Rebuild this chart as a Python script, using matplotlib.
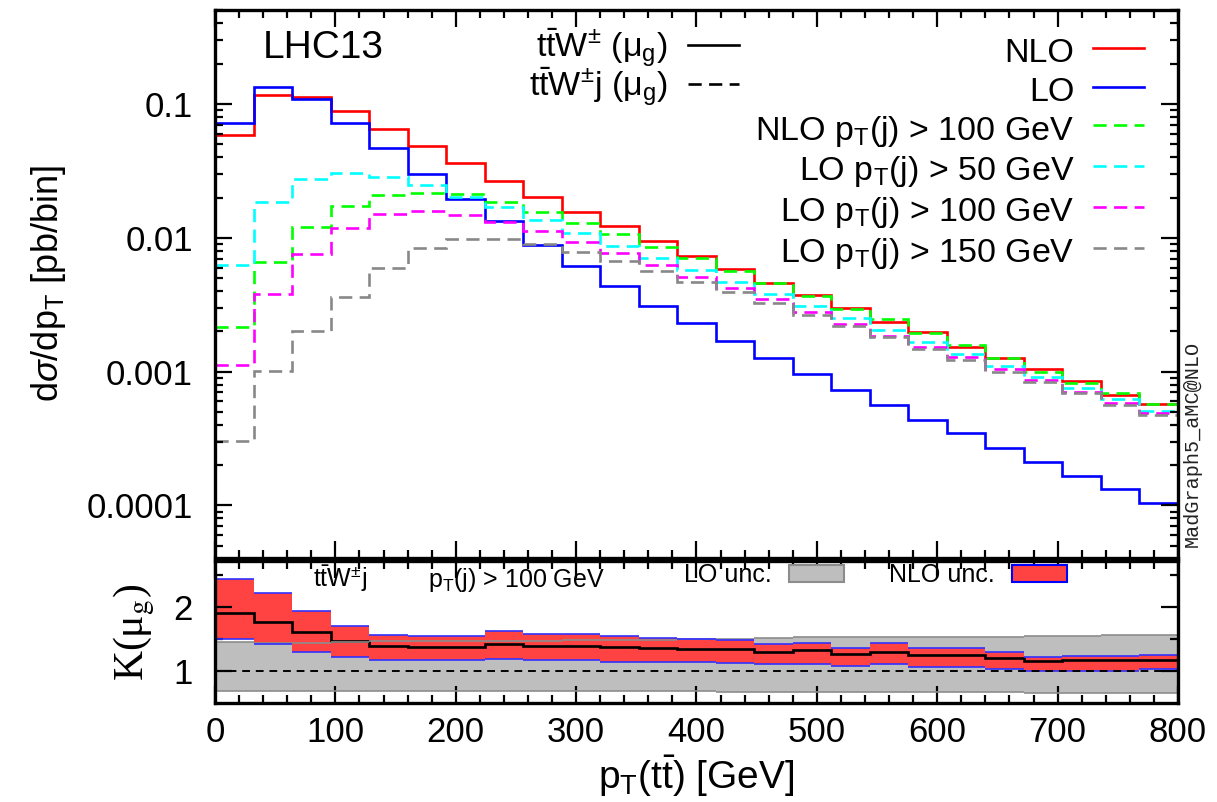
import numpy as np
import matplotlib
matplotlib.use('Agg')
import matplotlib.pyplot as plt
from matplotlib.lines import Line2D
from matplotlib.patches import Patch
from matplotlib.ticker import FixedLocator, NullFormatter, LogLocator

plt.rcParams['font.family'] = ['Liberation Sans', 'DejaVu Sans']
plt.rcParams['mathtext.fontset'] = 'custom'
plt.rcParams['mathtext.rm'] = 'Liberation Sans'
plt.rcParams['mathtext.it'] = 'Liberation Sans:italic'
plt.rcParams['mathtext.bf'] = 'Liberation Sans:bold'
plt.rcParams['mathtext.sf'] = 'Liberation Sans'

# pT(ttbar) binning, 32 GeV bins
edges = np.arange(0, 801, 32)

# d sigma / d pT [pb/bin]
nlo = [0.0586, 0.1168, 0.1134, 0.0886, 0.0647, 0.0485, 0.0360, 0.02657, 0.0203,
       0.01567, 0.01225, 0.00946, 0.00731, 0.00585, 0.00462, 0.00372, 0.00301,
       0.00236, 0.00197, 0.00152, 0.00127, 0.00104, 0.000851, 0.000668, 0.000575]
lo = [0.0717, 0.1333, 0.1096, 0.0725, 0.0467, 0.0300, 0.0195, 0.01336, 0.00888,
      0.00619, 0.00437, 0.00311, 0.00230, 0.00170, 0.00127, 0.000954, 0.000729,
      0.000562, 0.000434, 0.000346, 0.000267, 0.000212, 0.000167, 0.000133, 0.000105]
nlo_j100 = [0.00214, 0.00663, 0.0121, 0.0174, 0.0209, 0.0217, 0.0212, 0.01853, 0.01567,
            0.01297, 0.01062, 0.00858, 0.00703, 0.00569, 0.00458, 0.00365, 0.00294,
            0.00246, 0.00196, 0.00159, 0.00126, 0.000998, 0.000826, 0.000689, 0.000573]
lo_j50 = [0.00627, 0.01841, 0.0275, 0.0303, 0.0286, 0.0248, 0.0203, 0.0169, 0.01359,
          0.01092, 0.00873, 0.00711, 0.00578, 0.00467, 0.00380, 0.00309, 0.00250,
          0.00205, 0.00167, 0.00135, 0.00111, 0.000916, 0.000750, 0.000621, 0.000510]
lo_j100 = [0.00112, 0.0038, 0.00757, 0.0119, 0.0150, 0.01586, 0.0148, 0.0132, 0.01118,
           0.00925, 0.00770, 0.00627, 0.00512, 0.00423, 0.00347, 0.00281, 0.00227,
           0.00185, 0.00153, 0.00128, 0.00105, 0.000865, 0.000708, 0.000580, 0.000488]
lo_j150 = [0.000305, 0.00101, 0.00202, 0.00359, 0.00590, 0.00835, 0.00974, 0.00974, 0.00893,
           0.00780, 0.00675, 0.00569, 0.00470, 0.00394, 0.00324, 0.00265, 0.00219,
           0.00180, 0.00147, 0.00122, 0.000998, 0.000841, 0.000696, 0.000562, 0.000474]

# K factor (ttW+j, pT(j) > 100 GeV) with scale bands
k_central = [1.907, 1.767, 1.611, 1.472, 1.389, 1.378, 1.378, 1.425, 1.394, 1.394,
             1.378, 1.352, 1.347, 1.342, 1.301, 1.327, 1.259, 1.301, 1.249, 1.249,
             1.207, 1.156, 1.166, 1.166, 1.176]
k_nlo_up = [2.426, 2.208, 1.938, 1.700, 1.555, 1.544, 1.544, 1.622, 1.570, 1.570,
            1.544, 1.508, 1.497, 1.482, 1.420, 1.441, 1.352, 1.441, 1.352, 1.352,
            1.301, 1.223, 1.233, 1.233, 1.249]
k_nlo_dn = [1.493, 1.415, 1.301, 1.213, 1.171, 1.171, 1.171, 1.181, 1.171, 1.171,
            1.145, 1.135, 1.135, 1.124, 1.104, 1.114, 1.073, 1.104, 1.057, 1.057,
            1.036, 1.005, 1.005, 1.005, 1.026]
k_lo_up = [1.446, 1.44, 1.44, 1.45, 1.46, 1.46, 1.47, 1.47, 1.47, 1.48,
           1.48, 1.48, 1.49, 1.49, 1.508, 1.524, 1.524, 1.524, 1.534, 1.534,
           1.534, 1.544, 1.544, 1.555, 1.555]
k_lo_dn = [0.694, 0.694, 0.694, 0.694, 0.694, 0.692, 0.692, 0.690, 0.690, 0.688,
           0.686, 0.684, 0.680, 0.678, 0.675, 0.672, 0.670, 0.668, 0.666, 0.665,
           0.664, 0.663, 0.662, 0.662, 0.662]

dash = (0, (5.0, 2.8))
lw = 1.9

fig = plt.figure(figsize=(12.17, 8.02), dpi=100)
ax = fig.add_axes([0.17666, 0.30424, 0.79129, 0.68329])
ax2 = fig.add_axes([0.17666, 0.12344, 0.79129, 0.17743])

# --- upper panel: distributions
ax.stairs(nlo, edges, baseline=None, color='#ff0000', lw=lw)
ax.stairs(lo, edges, baseline=None, color='#0000ff', lw=lw)
ax.stairs(nlo_j100, edges, baseline=None, color='#00ff00', lw=lw, ls=dash)
ax.stairs(lo_j50, edges, baseline=None, color='#00ffff', lw=lw, ls=dash)
ax.stairs(lo_j100, edges, baseline=None, color='#ff00ff', lw=lw, ls=dash)
ax.stairs(lo_j150, edges, baseline=None, color='#888888', lw=lw, ls=dash)

ax.set_yscale('log')
ax.set_xlim(0, 800)
ax.set_ylim(4.05e-5, 0.504)
ax.yaxis.set_major_locator(FixedLocator([1e-4, 1e-3, 1e-2, 1e-1]))
ax.set_yticklabels(['0.0001', '0.001', '0.01', '0.1'])
ax.yaxis.set_minor_locator(LogLocator(base=10, subs=np.arange(2, 10), numticks=20))
ax.yaxis.set_minor_formatter(NullFormatter())
ax.set_ylabel(r'd$\sigma$/dp$_\mathrm{T}$ [pb/bin]', fontsize=26)
ax.yaxis.set_label_coords(-0.1526, 0.5)
ax.text(0.05, 0.93, 'LHC13', transform=ax.transAxes, fontsize=28, va='center')

leg_a = ax.legend(handles=[Line2D([], [], color='k', lw=lw),
                           Line2D([], [], color='k', lw=lw, ls=dash)],
                  labels=[r'$\mathrm{t\bar{t}W^{\pm}}$ ($\mathrm{\mu_g}$)',
                          r'$\mathrm{t\bar{t}W^{\pm}j}$ ($\mathrm{\mu_g}$)'],
                  loc='upper right', bbox_to_anchor=(0.544, 0.971), frameon=False,
                  markerfirst=False, fontsize=24.5, handlelength=1.5, handletextpad=0.6,
                  labelspacing=-0.1, borderpad=0, borderaxespad=0)
ax.add_artist(leg_a)

ax.legend(handles=[Line2D([], [], color='#ff0000', lw=lw),
                   Line2D([], [], color='#0000ff', lw=lw),
                   Line2D([], [], color='#00ff00', lw=lw, ls=dash),
                   Line2D([], [], color='#00ffff', lw=lw, ls=dash),
                   Line2D([], [], color='#ff00ff', lw=lw, ls=dash),
                   Line2D([], [], color='#888888', lw=lw, ls=dash)],
          labels=['NLO', 'LO',
                  r'NLO p$_\mathrm{T}$(j) > 100 GeV',
                  r'LO p$_\mathrm{T}$(j) > 50 GeV',
                  r'LO p$_\mathrm{T}$(j) > 100 GeV',
                  r'LO p$_\mathrm{T}$(j) > 150 GeV'],
          loc='upper right', bbox_to_anchor=(0.9647, 0.957), frameon=False,
          markerfirst=False, fontsize=24.5, handlelength=1.5, handletextpad=0.55,
          handleheight=1.15, labelspacing=0.1, borderpad=0, borderaxespad=0)

# --- lower panel: K factor
ax2.stairs(k_lo_up, edges, baseline=k_lo_dn, fill=True, color='#bebebe', lw=0)
ax2.hlines(k_lo_up, edges[:-1], edges[1:], color='#8c8c8c', lw=1.2)
ax2.hlines(k_lo_dn, edges[:-1], edges[1:], color='#8c8c8c', lw=1.2)
ax2.stairs(k_nlo_up, edges, baseline=k_nlo_dn, fill=True, color='#ff4242', lw=0)
ax2.hlines(k_nlo_up, edges[:-1], edges[1:], color='#3030ff', lw=1.2)
ax2.hlines(k_nlo_dn, edges[:-1], edges[1:], color='#3030ff', lw=1.2)
ax2.stairs(k_central, edges, baseline=None, color='k', lw=1.9)
ax2.axhline(1.0, color='k', lw=1.4, ls=(0, (4, 3)))

ax2.set_xlim(0, 800)
ax2.set_ylim(0.5, 2.715)
ax2.yaxis.set_major_locator(FixedLocator([1, 2]))
ax2.yaxis.set_minor_locator(FixedLocator([1.5, 2.5]))
ax2.set_xlabel(r'p$_\mathrm{T}$(t$\mathrm{\bar{t}}$) [GeV]', fontsize=28, labelpad=4)
ax2.set_ylabel(r'K(μ$_\mathrm{g}$)', fontsize=30, family='Liberation Serif',
               math_fontfamily='stix')
ax2.yaxis.set_label_coords(-0.060, 0.5)

ax2.text(0.1018, 0.875, r'$\mathrm{t\bar{t}W^{\pm}j}$', transform=ax2.transAxes,
         fontsize=18, va='center')
ax2.text(0.2212, 0.865, r'p$_\mathrm{T}$(j) > 100 GeV', transform=ax2.transAxes,
         fontsize=18, va='center')
ax2.legend(handles=[Patch(facecolor='#bebebe', edgecolor='#8c8c8c', lw=1.5),
                    Patch(facecolor='#ff4242', edgecolor='#0000ff', lw=1.5)],
           labels=['LO unc.', 'NLO unc.'], ncol=2, loc='upper right',
           bbox_to_anchor=(0.8847, 0.984), frameon=False, markerfirst=False,
           fontsize=18, handlelength=2.2, handleheight=0.68, handletextpad=0.68,
           columnspacing=1.8, borderpad=0, borderaxespad=0)

for a in (ax, ax2):
    a.xaxis.set_major_locator(FixedLocator(np.arange(0, 801, 100)))
    a.xaxis.set_minor_locator(FixedLocator(np.arange(0, 801, 20)))
    a.tick_params(which='both', direction='in', top=True, right=True, width=1.6)
    a.tick_params(which='major', length=12.5, labelsize=25)
    a.tick_params(which='minor', length=6)
    a.tick_params(axis='y', which='major', pad=16)
    a.tick_params(axis='x', which='major', pad=9)
    for s in a.spines.values():
        s.set_linewidth(2.4)
ax.tick_params(labelbottom=False)

fig.text(0.9795, 0.447, 'MadGraph5_aMC@NLO', rotation=90, fontsize=14.5,
         family='Liberation Mono', color='#222222', ha='center', va='center')

fig.savefig('out.png', dpi=100)
